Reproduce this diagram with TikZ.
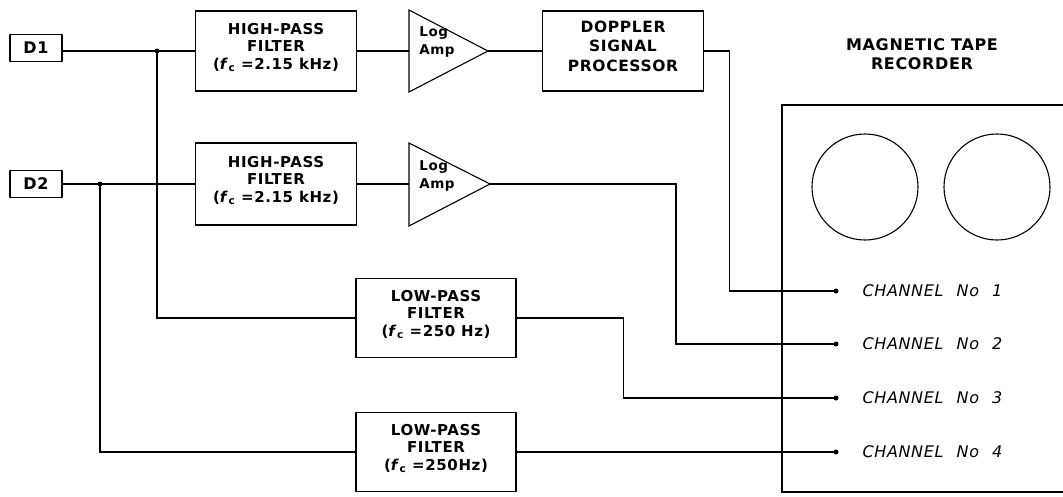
\documentclass[tikz,border=0pt]{standalone}
\usepackage{fontspec}
\setmainfont{DejaVu Sans}[LetterSpace=4]
\newfontfamily\chanfont{DejaVu Sans Oblique}[LetterSpace=4,WordSpace=2.3]
\usetikzlibrary{positioning}

\begin{document}
\begin{tikzpicture}[x=1pt, y=-1pt, line width=1.1pt,
    filterbox/.style={draw, inner sep=2pt, align=center,
      minimum width=161pt, minimum height=80pt,
      execute at end node={\rule[-10pt]{0pt}{10pt}},
      font=\fontsize{15}{17.5}\selectfont\bfseries},
    inbox/.style={draw, inner sep=2pt, minimum width=52pt, minimum height=27pt,
      font=\fontsize{16}{18}\selectfont\bfseries},
    amplabel/.style={align=left, inner sep=0pt,
      font=\fontsize{13.5}{18}\selectfont\bfseries},
    chanlabel/.style={inner sep=0pt, anchor=west,
      font=\fontsize{16}{19}\selectfont\chanfont},
    titlelabel/.style={align=center, inner sep=0pt,
      font=\fontsize{16}{19}\selectfont\bfseries}]
  \useasboundingbox (0,0) rectangle (1063,496);

  % inputs
  \node[inbox] (d1) at (36,48) {D1};
  \node[inbox] (d2) at (36,184) {D2};

  % high-pass branch
  \node[filterbox] (hp1) at (276,51) {HIGH-PASS\\FILTER\\(\textit{f}\textsubscript{c} =2.15 kHz)};
  \node[filterbox, minimum height=82pt] (hp2) at (276,184) {HIGH-PASS\\FILTER\\(\textit{f}\textsubscript{c} =2.15 kHz)};

  % log amplifiers
  \coordinate (amp1in) at (409,51);
  \coordinate (amp1out) at (488,51);
  \draw (409,10) -- (amp1out) -- (409,92) -- cycle;
  \node[amplabel] (amp1) at (437,42) {Log\\Amp};
  \coordinate (amp2in) at (409,184);
  \coordinate (amp2out) at (490,184);
  \draw (409,143) -- (amp2out) -- (409,226) -- cycle;
  \node[amplabel] (amp2) at (437,176) {Log\\Amp};

  \node[filterbox, font=\fontsize{15.5}{19.5}\selectfont\bfseries] (dsp) at (623,51) {DOPPLER\\SIGNAL\\PROCESSOR};

  % low-pass branch
  \node[filterbox, minimum width=160pt, minimum height=79pt] (lp1) at (436,318) {LOW-PASS\\FILTER\\(\textit{f}\textsubscript{c} =250 Hz)};
  \node[filterbox, minimum width=160pt, minimum height=79pt] (lp2) at (436,452) {LOW-PASS\\FILTER\\(\textit{f}\textsubscript{c} =250Hz)};

  % tape recorder
  \node[titlelabel] (rectitle) at (922,54) {MAGNETIC TAPE\\RECORDER};
  \draw (1063,105) -- (782,105) -- (782,492) -- (1063,492);
  \draw (865,187) circle (53pt);
  \draw (997,187) circle (53pt);

  \coordinate (ch1) at (836,291);
  \coordinate (ch2) at (836,344);
  \coordinate (ch3) at (836,398);
  \coordinate (ch4) at (836,452);
  \foreach \n in {1,...,4} {
    \fill (ch\n) circle (2.5pt);
    \node[chanlabel, right=26pt of ch\n] (chl\n) {CHANNEL No \n};
  }

  % junctions
  \coordinate (j1) at (157,51);
  \coordinate (j2) at (100,184);
  \fill (j1) circle (2.5pt);
  \fill (j2) circle (2.5pt);

  % wiring
  \draw (j1 -| d1.east) -- (hp1.west);
  \draw (d2.east) -- (hp2.west);
  \draw (j1) |- (lp1.west);
  \draw (j2) |- (lp2.west);
  \draw (hp1.east) -- (amp1in);
  \draw (hp2.east) -- (amp2in);
  \draw (amp1out) -- (dsp.west);
  \draw (dsp.east) -- ++(25,0) |- (ch1);
  \draw (amp2out) -- ++(186,0) |- (ch2);
  \draw (lp1.east) -- ++(107,0) |- (ch3);
  \draw (lp2.east) -- (ch4);
\end{tikzpicture}
\end{document}
